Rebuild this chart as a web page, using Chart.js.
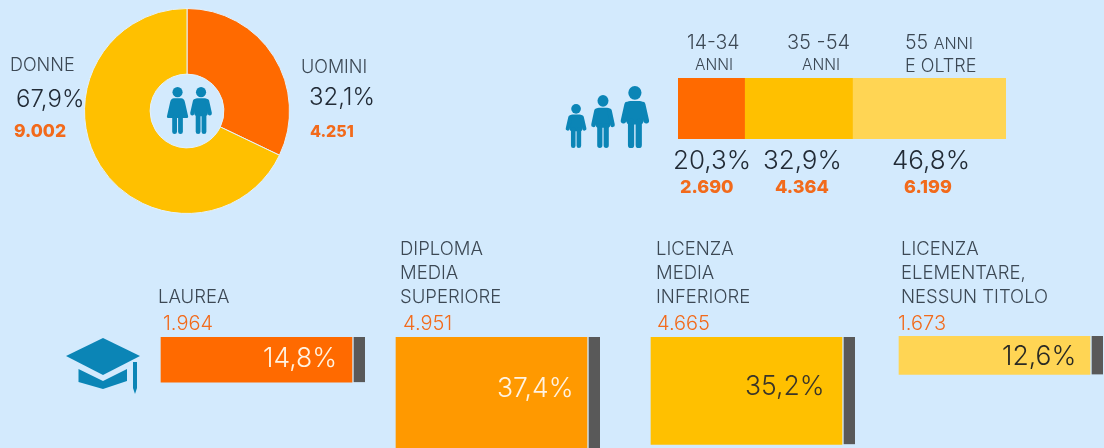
<!DOCTYPE html>
<html>
<head>
<meta charset="utf-8">
<script src="https://cdn.jsdelivr.net/npm/chart.js@4"></script>
<style>
html, body { margin: 0; padding: 0; width: 1104px; height: 448px; overflow: hidden; background: #d3eafd; }
canvas { position: absolute; }
svg { position: absolute; left: 0; top: 0; }
.t { position: absolute; white-space: pre; font-family: Inter, sans-serif; font-weight: 300; line-height: 1; color: #3c4854; }
.pct { color: #222b36; }
.num { color: #f26a1b; font-weight: 800; }
.num2 { color: #f26a1b; }
</style>
</head>
<body>
<canvas id="gender" width="206" height="206" style="left:84px;top:8px"></canvas>
<canvas id="age" width="328" height="61" style="left:678px;top:78px"></canvas>
<canvas id="edu0" width="400" height="111" style="left:152px;top:337px"></canvas>
<canvas id="edu1" width="400" height="111" style="left:387px;top:337px"></canvas>
<canvas id="edu2" width="400" height="111" style="left:642px;top:337px"></canvas>
<canvas id="edu3" width="400" height="111" style="left:890px;top:336px"></canvas>

<svg width="1104" height="448">
  <defs>
    <g id="man">
      <circle cx="12" cy="5.5" r="5.5"/>
      <rect x="4.5" y="12" width="15" height="19" rx="3.5"/>
      <path d="M5.5 15 L2.5 28 M18.5 15 L21.5 28" stroke="#0b85b6" stroke-width="4.6" stroke-linecap="round" fill="none"/>
      <path d="M8.8 29 V47.5 M15.2 29 V47.5" stroke="#0b85b6" stroke-width="5.2" stroke-linecap="round" fill="none"/>
    </g>
    <g id="woman">
      <circle cx="12" cy="5.5" r="5.5"/>
      <path d="M8 12 H16 Q19 12 20 16 L23.5 31 Q24 33 21 33 H3 Q0 33 0.5 31 L4 16 Q5 12 8 12 Z"/>
      <path d="M8.8 32 V47.5 M15.2 32 V47.5" stroke="#0b85b6" stroke-width="5.2" stroke-linecap="round" fill="none"/>
    </g>
  </defs>
  <g fill="#0b85b6">
    <use href="#woman" transform="translate(166.5,87) scale(0.92,0.94)"/>
    <use href="#man" transform="translate(190,87) scale(0.92,0.94)"/>
    <use href="#man" transform="translate(565.5,104) scale(0.88,0.88)"/>
    <use href="#man" transform="translate(591,95) scale(1,1.06)"/>
    <use href="#man" transform="translate(620.5,86) scale(1.2,1.24)"/>
    <path d="M66 356 L103 338 L140 356 L103 375 Z"/>
    <path d="M78.5 369 L103 381 L127 369 V381 L103 389 L78.5 382 Z"/>
    <path d="M133 362 H137 V388 L135 394 L133 388 Z"/>
  </g>
</svg>

<script>
const genderLabels = ['UOMINI', 'DONNE'];
const genderPct = [32.1, 67.9];
const genderCount = ['4.251', '9.002'];

const ageLabels = ['14-34 anni', '35-54 anni', '55 anni e oltre'];
const agePct = [20.3, 32.9, 46.8];
const ageCount = ['2.690', '4.364', '6.199'];

const eduLabels = ['LAUREA', 'DIPLOMA\nMEDIA\nSUPERIORE', 'LICENZA\nMEDIA\nINFERIORE', 'LICENZA\nELEMENTARE,\nNESSUN TITOLO'];
const eduPct = [14.8, 37.4, 35.2, 12.6];
const eduCount = ['1.964', '4.951', '4.665', '1.673'];

const orange = '#ff6a00';
const amber = '#ffc000';
const yellow = '#ffd554';
const midOrange = '#ff9900';
const grey = '#595959';
const bg = '#d3eafd';

Chart.defaults.animation = false;
Chart.defaults.responsive = false;
Chart.defaults.plugins.legend.display = false;
Chart.defaults.plugins.tooltip.enabled = false;

function pct(v) {
    return v.toFixed(1).replace('.', ',') + '%';
}

function addText(text, x, baseline, size, cls, extra) {
    const d = document.createElement('div');
    d.className = 't ' + (cls || '');
    d.textContent = text;
    d.style.left = x + 'px';
    d.style.top = (baseline - size * 0.86) + 'px';
    d.style.fontSize = size + 'px';
    if (extra) Object.assign(d.style, extra);
    document.body.appendChild(d);
    return d;
}

new Chart(document.getElementById('gender'), {
    type: 'doughnut',
    data: {
        labels: genderLabels,
        datasets: [{
            data: genderPct,
            backgroundColor: [orange, amber],
            borderColor: '#e4f1fb',
            borderWidth: 1
        }]
    },
    options: { cutout: '36%' }
});

new Chart(document.getElementById('age'), {
    type: 'bar',
    data: {
        labels: ['età'],
        datasets: agePct.map(function (v, i) {
            return {
                label: ageLabels[i],
                data: [v],
                backgroundColor: [orange, amber, yellow][i],
                barPercentage: 1,
                categoryPercentage: 1
            };
        })
    },
    options: {
        indexAxis: 'y',
        scales: {
            x: { display: false, stacked: true, min: 0, max: 100 },
            y: { display: false, stacked: true }
        }
    }
});

const eduColors = [orange, midOrange, amber, yellow];
eduPct.forEach(function (v, i) {
    new Chart(document.getElementById('edu' + i), {
        type: 'bar',
        data: {
            labels: [eduLabels[i]],
            datasets: [{
                data: [v],
                backgroundColor: eduColors[i],
                barThickness: 191
            }, {
                data: [v],
                backgroundColor: grey,
                borderColor: bg,
                borderWidth: { left: 2, right: 0, top: 0, bottom: 0 },
                barThickness: 13
            }]
        },
        options: {
            scales: {
                x: { display: false },
                y: { display: false, reverse: true, min: 0, max: 36.4 }
            }
        }
    });
});

// gender labels
addText('DONNE', 10, 71.5, 18);
addText('UOMINI', 301, 73.5, 18);
addText(pct(genderPct[1]), 16, 108, 24, 'pct');
addText(pct(genderPct[0]), 309, 106, 24, 'pct');
addText(genderCount[1], 14, 137, 17.5, 'num');
addText(genderCount[0], 310, 137, 16, 'num');

// age labels
addText('14-34', 687, 49.5, 19.5);
addText('ANNI', 695, 70, 15.5);
addText('35 -54', 787, 49.5, 20);
addText('ANNI', 802, 70, 15.5);
const last = addText('55 ', 905, 49.5, 19.5);
const small = document.createElement('span');
small.textContent = 'ANNI';
small.style.fontSize = '16px';
last.appendChild(small);
addText('E OLTRE', 905, 72, 18);
const ageX = [673, 763, 892];
const ageNumX = [680, 775, 904];
agePct.forEach(function (v, i) {
    addText(pct(v), ageX[i], 169, 26, 'pct');
    addText(ageCount[i], ageNumX[i], 193, 18, 'num');
});

// education labels
const eduLabelX = [158, 400, 656, 901];
const eduNumX = [163, 403, 657, 898];
const eduPctX = [263, 497, 745, 1002];
const eduPctY = [367, 397, 395, 365];
const eduPctColor = ['#fff3e2', '#fff3e2', '#3a3528', '#2a2a24'];
eduLabels.forEach(function (label, i) {
    const lines = label.split('\n');
    lines.forEach(function (line, j) {
        addText(line, eduLabelX[i], 303 - (lines.length - 1 - j) * 24, 18.5);
    });
    addText(eduCount[i], eduNumX[i], 330, 20, 'num2');
    addText(pct(eduPct[i]), eduPctX[i], eduPctY[i], 26.5, '', { color: eduPctColor[i] });
});
</script>
</body>
</html>
